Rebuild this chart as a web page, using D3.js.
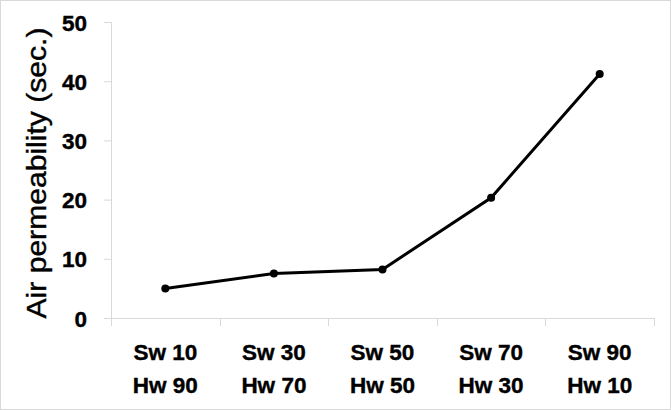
<!DOCTYPE html>
<head>
  <meta charset="utf-8">
  <script src="https://d3js.org/d3.v7.min.js"></script>
<style>
    body {
        margin: 0;
        background: #fff;
    }
    svg {
        display: block;
        font-family: "Liberation Sans", Arial, sans-serif;
    }
    .tick text {
        font-weight: bold;
        font-size: 22.5px;
        fill: #000;
        stroke: #000;
        stroke-width: 0.4px;
    }
    .cat {
        font-weight: bold;
        font-size: 22.5px;
        fill: #000;
        stroke: #000;
        stroke-width: 0.4px;
    }
</style>
</head>

<body>
  <script>

var swLabels = ["Sw 10", "Sw 30", "Sw 50", "Sw 70", "Sw 90"];
var hwLabels = ["Hw 90", "Hw 70", "Hw 50", "Hw 30", "Hw 10"];
var permeability = [5.0, 7.5, 8.2, 20.3, 41.2];
var yTicks = [0, 10, 20, 30, 40, 50];

var width = 671;
var height = 410;

var svg = d3.select("body")
    .append("svg")
    .attr("width", width)
    .attr("height", height);

// outer frame
svg.append("rect")
    .attr("x", 0.5)
    .attr("y", 0.5)
    .attr("width", width - 1)
    .attr("height", height - 1)
    .attr("fill", "#fff")
    .attr("stroke", "#d9d9d9");

var x = d3.scaleBand()
    .domain(swLabels)
    .range([111, 654])
    .padding(0);

var y = d3.scaleLinear()
    .domain([0, 50])
    .range([318, 22]);

// y axis
var yAxis = svg.append("g")
    .attr("transform", "translate(111,0)")
    .call(d3.axisLeft(y).tickValues(yTicks).tickSize(7).tickPadding(17));

yAxis.select(".domain").attr("stroke", "#d9d9d9");
yAxis.selectAll(".tick line").attr("stroke", "#d9d9d9");
yAxis.selectAll(".tick text").attr("dy", "0.36em");

// x axis: line plus ticks at band edges
var edges = swLabels.map(function (d) { return x(d); });
edges.push(x(swLabels[swLabels.length - 1]) + x.bandwidth());

svg.append("line")
    .attr("x1", x.range()[0])
    .attr("x2", x.range()[1])
    .attr("y1", y(0) + 0.5)
    .attr("y2", y(0) + 0.5)
    .attr("stroke", "#d9d9d9");

svg.selectAll(".xtick")
    .data(edges)
    .enter()
    .append("line")
    .attr("class", "xtick")
    .attr("x1", function (d) { return Math.round(d) + 0.5; })
    .attr("x2", function (d) { return Math.round(d) + 0.5; })
    .attr("y1", y(0))
    .attr("y2", y(0) + 8)
    .attr("stroke", "#d9d9d9");

var cats = svg.selectAll(".cat")
    .data(swLabels)
    .enter()
    .append("text")
    .attr("class", "cat")
    .attr("text-anchor", "middle")
    .attr("x", function (d) { return x(d) + x.bandwidth() / 2; })
    .attr("y", 360);

cats.append("tspan")
    .text(function (d) { return d; });

cats.append("tspan")
    .attr("x", function (d) { return x(d) + x.bandwidth() / 2; })
    .attr("dy", 33)
    .text(function (d, i) { return hwLabels[i]; });

// y axis title
svg.append("text")
    .attr("transform", "translate(46,173) rotate(-90)")
    .attr("text-anchor", "middle")
    .attr("font-size", "28px")
    .attr("textLength", 291)
    .attr("lengthAdjust", "spacingAndGlyphs")
    .attr("fill", "#000")
    .attr("stroke", "#000")
    .attr("stroke-width", 0.4)
    .text("Air permeability (sec.)");

// line and markers
var line = d3.line()
    .x(function (d, i) { return x(swLabels[i]) + x.bandwidth() / 2; })
    .y(function (d) { return y(d); });

svg.append("path")
    .datum(permeability)
    .attr("d", line)
    .attr("fill", "none")
    .attr("stroke", "#000")
    .attr("stroke-width", 3);

svg.selectAll(".pt")
    .data(permeability)
    .enter()
    .append("circle")
    .attr("class", "pt")
    .attr("cx", function (d, i) { return x(swLabels[i]) + x.bandwidth() / 2; })
    .attr("cy", function (d) { return y(d); })
    .attr("r", 4)
    .attr("fill", "#000");

  </script>
</body>
